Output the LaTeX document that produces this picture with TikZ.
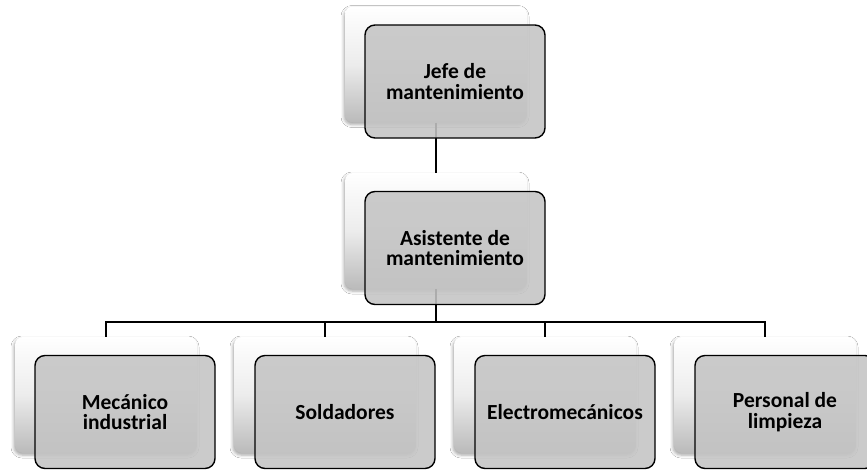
\documentclass[tikz,border=0pt]{standalone}
\usepackage{fontspec}
\setmainfont{Carlito}
\usetikzlibrary{shadows,shadows.blur}
\definecolor{frontgray}{RGB}{196,196,196}
\definecolor{backbot}{RGB}{186,186,186}
\definecolor{backmid}{RGB}{236,236,236}
\tikzset{
  backcard/.style={rounded corners=8pt, minimum width=182pt, minimum height=116pt, inner sep=0pt,
    top color=white, bottom color=backbot, middle color=backmid,
    blur shadow={shadow xshift=-1pt, shadow yshift=-2pt, shadow blur radius=3pt, shadow opacity=35}},
  frontbox/.style={draw=black, line width=1.4pt, rounded corners=10pt, fill=frontgray, fill opacity=0.88,
    text opacity=1, minimum width=180pt, minimum height=113pt, inner sep=2pt, align=center,
    font=\bfseries\fontsize{21.5}{20.5}\selectfont},
  conn/.style={draw=black, line width=1.4pt}
}
\begin{document}
\begin{tikzpicture}[x=1pt,y=-1pt]
\useasboundingbox (0,0) rectangle (867,469);
\fill[white] (0,0) rectangle (867,469);
% back cards
\node[backcard] (jefeB) at (436,64.5) {};
\node[backcard] (asisB) at (436,231) {};
\node[backcard] (mecB) at (106,395) {};
\node[backcard] (solB) at (325,395) {};
\node[backcard] (eleB) at (545,395) {};
\node[backcard] (perB) at (765,395) {};
% connectors
\coordinate (hub) at (436,322);
\draw[conn] (jefeB.south) -- (asisB.north);
\draw[conn] (asisB.south) -- (hub);
\draw[conn] (hub) -| (mecB.north);
\draw[conn] (hub) -| (solB.north);
\draw[conn] (hub) -| (eleB.north);
\draw[conn] (hub) -| (perB.north);
% front boxes
\node[frontbox] (jefe) at (455,81.5) {Jefe de\\mantenimiento};
\node[frontbox] (asis) at (455,248) {Asistente de\\mantenimiento};
\node[frontbox] (mec) at (125,412) {Mecánico\\industrial};
\node[frontbox] (sol) at (345,412) {Soldadores};
\node[frontbox] (ele) at (565,412) {Electromecánicos};
\node[frontbox] (per) at (785,412) {Personal de\\limpieza};
\end{tikzpicture}
\end{document}
